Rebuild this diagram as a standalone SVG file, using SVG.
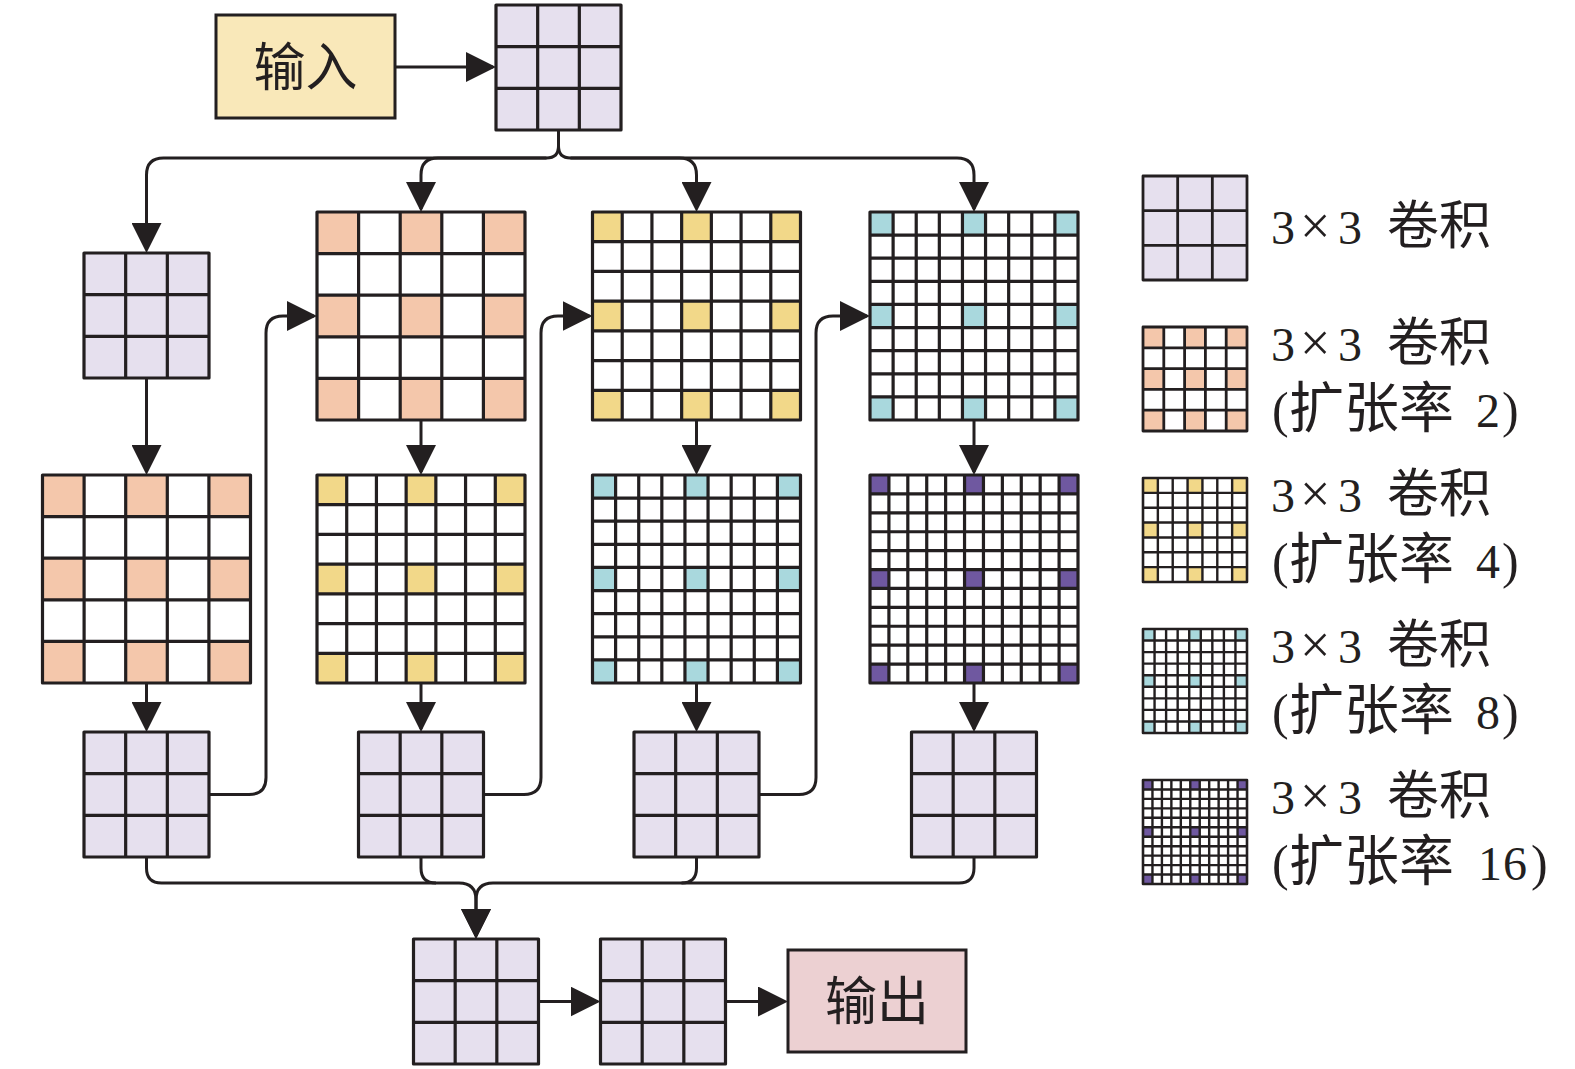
<svg xmlns="http://www.w3.org/2000/svg" width="1575" height="1069" viewBox="0 0 1575 1069">
<style>
.ln{stroke:#231f20;stroke-width:3.2;fill:none}
.bd{stroke:#231f20;stroke-width:3.2;fill:none;stroke-linejoin:round}
.lln{stroke:#231f20;stroke-width:2.8;fill:none}
.lbd{stroke:#231f20;stroke-width:2.8;fill:none;stroke-linejoin:round}
.tln{stroke:#231f20;stroke-width:2.4;fill:none}
.tbd{stroke:#231f20;stroke-width:2.6;fill:none;stroke-linejoin:round}
.lav{fill:#e6e0ee}
.wh{fill:#ffffff}
.pe{fill:#f4c7ab}
.ye{fill:#f2d889}
.cy{fill:#a9d8dd}
.pu{fill:#6f58a0}
.cn{stroke:#231f20;stroke-width:3;fill:none;marker-end:url(#ah)}
.cb{stroke:#231f20;stroke-width:3;fill:none}
.t{font-family:"Liberation Serif","Noto Sans CJK SC",serif;fill:#231f20}
.cj{font-family:"Noto Sans CJK SC",sans-serif}
</style>
<defs>
<marker id="ah" markerUnits="userSpaceOnUse" markerWidth="30" markerHeight="30" viewBox="0 0 30 30" refX="27" refY="15" orient="auto">
<path d="M0,0 L30,15 L0,30 Z" fill="#231f20"/>
</marker>
<g id="s3">
<rect width="125" height="125" class="lav"/>
<path class="ln" d="M41.667 0V125M83.333 0V125M0 41.667H125M0 83.333H125"/>
<rect width="125" height="125" class="bd"/>
</g>
<g id="b5">
<rect width="208" height="208" class="wh"/>
<g class="pe">
<rect x="0" y="0" width="41.6" height="41.6"/><rect x="83.2" y="0" width="41.6" height="41.6"/><rect x="166.4" y="0" width="41.6" height="41.6"/>
<rect x="0" y="83.2" width="41.6" height="41.6"/><rect x="83.2" y="83.2" width="41.6" height="41.6"/><rect x="166.4" y="83.2" width="41.6" height="41.6"/>
<rect x="0" y="166.4" width="41.6" height="41.6"/><rect x="83.2" y="166.4" width="41.6" height="41.6"/><rect x="166.4" y="166.4" width="41.6" height="41.6"/>
</g>
<path class="ln" d="M41.6 0V208M83.2 0V208M124.8 0V208M166.4 0V208M0 41.6H208M0 83.2H208M0 124.8H208M0 166.4H208"/>
<rect width="208" height="208" class="bd"/>
</g>
<g id="b7">
<rect width="208" height="208" class="wh"/>
<g class="ye">
<rect x="0" y="0" width="29.714" height="29.714"/><rect x="89.143" y="0" width="29.714" height="29.714"/><rect x="178.286" y="0" width="29.714" height="29.714"/>
<rect x="0" y="89.143" width="29.714" height="29.714"/><rect x="89.143" y="89.143" width="29.714" height="29.714"/><rect x="178.286" y="89.143" width="29.714" height="29.714"/>
<rect x="0" y="178.286" width="29.714" height="29.714"/><rect x="89.143" y="178.286" width="29.714" height="29.714"/><rect x="178.286" y="178.286" width="29.714" height="29.714"/>
</g>
<path class="ln" d="M29.714 0V208M59.429 0V208M89.143 0V208M118.857 0V208M148.571 0V208M178.286 0V208M0 29.714H208M0 59.429H208M0 89.143H208M0 118.857H208M0 148.571H208M0 178.286H208"/>
<rect width="208" height="208" class="bd"/>
</g>
<g id="b9">
<rect width="208" height="208" class="wh"/>
<g class="cy">
<rect x="0" y="0" width="23.111" height="23.111"/><rect x="92.444" y="0" width="23.111" height="23.111"/><rect x="184.889" y="0" width="23.111" height="23.111"/>
<rect x="0" y="92.444" width="23.111" height="23.111"/><rect x="92.444" y="92.444" width="23.111" height="23.111"/><rect x="184.889" y="92.444" width="23.111" height="23.111"/>
<rect x="0" y="184.889" width="23.111" height="23.111"/><rect x="92.444" y="184.889" width="23.111" height="23.111"/><rect x="184.889" y="184.889" width="23.111" height="23.111"/>
</g>
<path class="ln" d="M23.111 0V208M46.222 0V208M69.333 0V208M92.444 0V208M115.556 0V208M138.667 0V208M161.778 0V208M184.889 0V208M0 23.111H208M0 46.222H208M0 69.333H208M0 92.444H208M0 115.556H208M0 138.667H208M0 161.778H208M0 184.889H208"/>
<rect width="208" height="208" class="bd"/>
</g>
<g id="b11">
<rect width="208" height="208" class="wh"/>
<g class="pu">
<rect x="0" y="0" width="18.909" height="18.909"/><rect x="94.545" y="0" width="18.909" height="18.909"/><rect x="189.091" y="0" width="18.909" height="18.909"/>
<rect x="0" y="94.545" width="18.909" height="18.909"/><rect x="94.545" y="94.545" width="18.909" height="18.909"/><rect x="189.091" y="94.545" width="18.909" height="18.909"/>
<rect x="0" y="189.091" width="18.909" height="18.909"/><rect x="94.545" y="189.091" width="18.909" height="18.909"/><rect x="189.091" y="189.091" width="18.909" height="18.909"/>
</g>
<path class="ln" d="M18.909 0V208M37.818 0V208M56.727 0V208M75.636 0V208M94.545 0V208M113.455 0V208M132.364 0V208M151.273 0V208M170.182 0V208M189.091 0V208M0 18.909H208M0 37.818H208M0 56.727H208M0 75.636H208M0 94.545H208M0 113.455H208M0 132.364H208M0 151.273H208M0 170.182H208M0 189.091H208"/>
<rect width="208" height="208" class="bd"/>
</g>
</defs>

<g id="input">
<rect x="216" y="15" width="179" height="103" fill="#f9e8b9" stroke="#231f20" stroke-width="3"/>
<text class="t cj" x="305.5" y="86" font-size="52" text-anchor="middle">输入</text>
</g>
<g id="conv-entry"><use href="#s3" x="496" y="5"/></g>

<g id="col1-conv"><use href="#s3" x="84" y="253"/></g>
<g id="col1-dil2"><use href="#b5" x="42.5" y="475"/></g>
<g id="col1-out"><use href="#s3" x="84" y="732"/></g>

<g id="col2-dil2"><use href="#b5" x="317" y="212"/></g>
<g id="col2-dil4"><use href="#b7" x="317" y="475"/></g>
<g id="col2-out"><use href="#s3" x="358.5" y="732"/></g>

<g id="col3-dil4"><use href="#b7" x="592.5" y="212"/></g>
<g id="col3-dil8"><use href="#b9" x="592.5" y="475"/></g>
<g id="col3-out"><use href="#s3" x="634" y="732"/></g>

<g id="col4-dil8"><use href="#b9" x="870" y="212"/></g>
<g id="col4-dil16"><use href="#b11" x="870" y="475"/></g>
<g id="col4-out"><use href="#s3" x="911.5" y="732"/></g>

<g id="merge-conv1"><use href="#s3" x="413.5" y="939"/></g>
<g id="merge-conv2"><use href="#s3" x="600.5" y="939"/></g>
<g id="output">
<rect x="788" y="950" width="178" height="102" fill="#ecd0d2" stroke="#231f20" stroke-width="3"/>
<text class="t cj" x="877" y="1020" font-size="52" text-anchor="middle">输出</text>
</g>

<g id="connectors">
<path class="cn" d="M395,67 H493"/>
<path class="cn" d="M558.5,130 V146 Q558.5,158 546.5,158 H163.5 Q146.5,158 146.5,175 V250"/>
<path class="cn" d="M558.5,130 V146 Q558.5,158 570.5,158 H957 Q974,158 974,175 V209"/>
<path class="cn" d="M546.5,158 H438 Q421,158 421,175 V209"/>
<path class="cn" d="M570.5,158 H679.5 Q696.5,158 696.5,175 V209"/>

<path class="cn" d="M146.5,378 V472"/>
<path class="cn" d="M146.5,683 V729"/>
<path class="cn" d="M421,420 V472"/>
<path class="cn" d="M421,683 V729"/>
<path class="cn" d="M696.5,420 V472"/>
<path class="cn" d="M696.5,683 V729"/>
<path class="cn" d="M974,420 V472"/>
<path class="cn" d="M974,683 V729"/>

<path class="cn" d="M209,794.5 H249 Q266,794.5 266,777.5 V333 Q266,316 283,316 H314"/>
<path class="cn" d="M483.5,794.5 H524 Q541,794.5 541,777.5 V333 Q541,316 558,316 H589.5"/>
<path class="cn" d="M759,794.5 H799 Q816,794.5 816,777.5 V333 Q816,316 833,316 H867"/>

<path class="cn" d="M146.5,857 V868 Q146.5,883 161.5,883 H459 Q476,883 476,900 V936"/>
<path class="cn" d="M974,857 V868 Q974,883 959,883 H493 Q476,883 476,900 V936"/>
<path class="cb" d="M421,857 V868 Q421,883 436,883"/>
<path class="cb" d="M696.5,857 V868 Q696.5,883 681.5,883"/>

<path class="cn" d="M538.5,1001.5 H597.5"/>
<path class="cn" d="M725.5,1001.5 H785"/>
</g>

<g id="legend-conv">
<rect x="1143" y="176" width="104" height="104" class="lav"/>
<path class="lln" d="M1177.667 176V280M1212.333 176V280M1143 210.667H1247M1143 245.333H1247"/>
<rect x="1143" y="176" width="104" height="104" class="lbd"/>
<text class="t" y="244"><tspan x="1271" font-size="48">3</tspan><tspan x="1300" font-size="54">×</tspan><tspan x="1338" font-size="48">3</tspan><tspan class="cj" x="1387" font-size="52">卷积</tspan></text>
</g>

<g id="legend-dil2">
<rect x="1143" y="327" width="104" height="104" class="wh"/>
<g class="pe" transform="translate(1143 327) scale(1.0097)">
<rect x="0" y="0" width="20.6" height="20.6"/><rect x="41.2" y="0" width="20.6" height="20.6"/><rect x="82.4" y="0" width="20.6" height="20.6"/>
<rect x="0" y="41.2" width="20.6" height="20.6"/><rect x="41.2" y="41.2" width="20.6" height="20.6"/><rect x="82.4" y="41.2" width="20.6" height="20.6"/>
<rect x="0" y="82.4" width="20.6" height="20.6"/><rect x="41.2" y="82.4" width="20.6" height="20.6"/><rect x="82.4" y="82.4" width="20.6" height="20.6"/>
</g>
<path class="lln" transform="translate(1143 327)" d="M20.8 0V104M41.6 0V104M62.4 0V104M83.2 0V104M0 20.8H104M0 41.6H104M0 62.4H104M0 83.2H104"/>
<rect x="1143" y="327" width="104" height="104" class="lbd"/>
<text class="t" y="361"><tspan x="1271" font-size="48">3</tspan><tspan x="1300" font-size="54">×</tspan><tspan x="1338" font-size="48">3</tspan><tspan class="cj" x="1387" font-size="52">卷积</tspan></text>
<text class="t" y="427"><tspan x="1272" font-size="50">(</tspan><tspan class="cj" x="1289" font-size="55">扩张率</tspan><tspan x="1476" font-size="48">2</tspan><tspan x="1502" font-size="50">)</tspan></text>
</g>

<g id="legend-dil4">
<rect x="1143" y="478" width="104" height="104" class="wh"/>
<g class="ye" transform="translate(1143 478) scale(1.0097)">
<rect x="0" y="0" width="14.714" height="14.714"/><rect x="44.143" y="0" width="14.714" height="14.714"/><rect x="88.286" y="0" width="14.714" height="14.714"/>
<rect x="0" y="44.143" width="14.714" height="14.714"/><rect x="44.143" y="44.143" width="14.714" height="14.714"/><rect x="88.286" y="44.143" width="14.714" height="14.714"/>
<rect x="0" y="88.286" width="14.714" height="14.714"/><rect x="44.143" y="88.286" width="14.714" height="14.714"/><rect x="88.286" y="88.286" width="14.714" height="14.714"/>
</g>
<path class="tln" transform="translate(1143 478)" d="M14.857 0V104M29.714 0V104M44.571 0V104M59.429 0V104M74.286 0V104M89.143 0V104M0 14.857H104M0 29.714H104M0 44.571H104M0 59.429H104M0 74.286H104M0 89.143H104"/>
<rect x="1143" y="478" width="104" height="104" class="tbd"/>
<text class="t" y="512"><tspan x="1271" font-size="48">3</tspan><tspan x="1300" font-size="54">×</tspan><tspan x="1338" font-size="48">3</tspan><tspan class="cj" x="1387" font-size="52">卷积</tspan></text>
<text class="t" y="578"><tspan x="1272" font-size="50">(</tspan><tspan class="cj" x="1289" font-size="55">扩张率</tspan><tspan x="1476" font-size="48">4</tspan><tspan x="1502" font-size="50">)</tspan></text>
</g>

<g id="legend-dil8">
<rect x="1143" y="629" width="104" height="104" class="wh"/>
<g class="cy" transform="translate(1143 629) scale(1.0097)">
<rect x="0" y="0" width="11.444" height="11.444"/><rect x="45.778" y="0" width="11.444" height="11.444"/><rect x="91.556" y="0" width="11.444" height="11.444"/>
<rect x="0" y="45.778" width="11.444" height="11.444"/><rect x="45.778" y="45.778" width="11.444" height="11.444"/><rect x="91.556" y="45.778" width="11.444" height="11.444"/>
<rect x="0" y="91.556" width="11.444" height="11.444"/><rect x="45.778" y="91.556" width="11.444" height="11.444"/><rect x="91.556" y="91.556" width="11.444" height="11.444"/>
</g>
<path class="tln" transform="translate(1143 629)" d="M11.556 0V104M23.111 0V104M34.667 0V104M46.222 0V104M57.778 0V104M69.333 0V104M80.889 0V104M92.444 0V104M0 11.556H104M0 23.111H104M0 34.667H104M0 46.222H104M0 57.778H104M0 69.333H104M0 80.889H104M0 92.444H104"/>
<rect x="1143" y="629" width="104" height="104" class="tbd"/>
<text class="t" y="663"><tspan x="1271" font-size="48">3</tspan><tspan x="1300" font-size="54">×</tspan><tspan x="1338" font-size="48">3</tspan><tspan class="cj" x="1387" font-size="52">卷积</tspan></text>
<text class="t" y="729"><tspan x="1272" font-size="50">(</tspan><tspan class="cj" x="1289" font-size="55">扩张率</tspan><tspan x="1476" font-size="48">8</tspan><tspan x="1502" font-size="50">)</tspan></text>
</g>

<g id="legend-dil16">
<rect x="1143" y="780" width="104" height="104" class="wh"/>
<g class="pu" transform="translate(1143 780) scale(1.0097)">
<rect x="0" y="0" width="9.364" height="9.364"/><rect x="46.818" y="0" width="9.364" height="9.364"/><rect x="93.636" y="0" width="9.364" height="9.364"/>
<rect x="0" y="46.818" width="9.364" height="9.364"/><rect x="46.818" y="46.818" width="9.364" height="9.364"/><rect x="93.636" y="46.818" width="9.364" height="9.364"/>
<rect x="0" y="93.636" width="9.364" height="9.364"/><rect x="46.818" y="93.636" width="9.364" height="9.364"/><rect x="93.636" y="93.636" width="9.364" height="9.364"/>
</g>
<path class="tln" transform="translate(1143 780)" d="M9.455 0V104M18.909 0V104M28.364 0V104M37.818 0V104M47.273 0V104M56.727 0V104M66.182 0V104M75.636 0V104M85.091 0V104M94.545 0V104M0 9.455H104M0 18.909H104M0 28.364H104M0 37.818H104M0 47.273H104M0 56.727H104M0 66.182H104M0 75.636H104M0 85.091H104M0 94.545H104"/>
<rect x="1143" y="780" width="104" height="104" class="tbd"/>
<text class="t" y="814"><tspan x="1271" font-size="48">3</tspan><tspan x="1300" font-size="54">×</tspan><tspan x="1338" font-size="48">3</tspan><tspan class="cj" x="1387" font-size="52">卷积</tspan></text>
<text class="t" y="880"><tspan x="1272" font-size="50">(</tspan><tspan class="cj" x="1289" font-size="55">扩张率</tspan><tspan x="1478" font-size="48">1</tspan><tspan x="1503" font-size="48">6</tspan><tspan x="1531" font-size="50">)</tspan></text>
</g>
</svg>
